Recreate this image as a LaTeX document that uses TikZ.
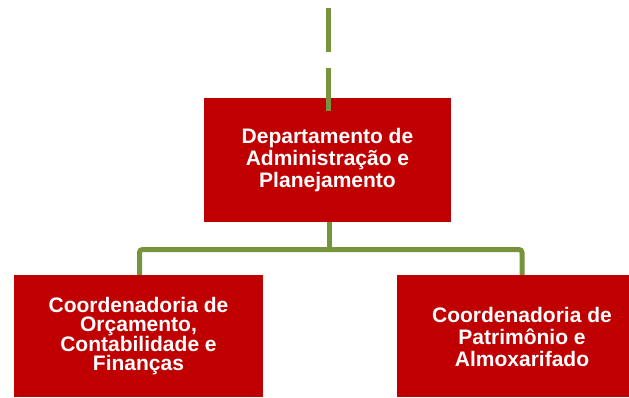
\documentclass[tikz,border=0pt]{standalone}
\usepackage{fontspec}
\setmainfont{Liberation Sans}
\usetikzlibrary{calc}
\definecolor{boxred}{RGB}{192,0,0}
\definecolor{lineg}{RGB}{119,147,60}
\begin{document}
\begin{tikzpicture}[
  box/.style={fill=boxred, inner sep=0pt, text=white, align=center},
  boxfont/.style={font=\bfseries\fontsize{21}{22}\selectfont},
  tightfont/.style={font=\bfseries\fontsize{21}{18.7}\selectfont},
  conn/.style={draw=lineg, line width=5pt, rounded corners=3pt},
  dashconn/.style={draw=lineg, line width=5pt, dash pattern=on 44pt off 16pt}
]
\useasboundingbox (0,0) rectangle (629pt,-397pt);

% coordinates for connectors
\coordinate (dtop) at (328.7pt,-8pt);
\coordinate (bl) at (139.5pt,-249.5pt);
\coordinate (br) at (522pt,-249.5pt);
\coordinate (bm) at (329pt,-249.5pt);

% connectors below boxes
\draw[conn] (bl |- 0,-276pt) -- (bl) -- (br) -- (br |- 0,-276pt);
\draw[conn] (bm |- 0,-220pt) -- (bm);

% boxes
\node[box, boxfont, minimum width=247pt, minimum height=124pt] (top) at (327.5pt,-160pt)
  {Departamento de\\Administração e\\Planejamento};
\node[box, tightfont, minimum width=249pt, minimum height=122pt] (lft) at (138.5pt,-336pt)
  {Coordenadoria de\\Orçamento,\\Contabilidade e\\Finanças};
\node[box, minimum width=232pt, minimum height=122pt] (rgt) at (513pt,-336pt) {};
\node[boxfont, text=white, align=center, inner sep=0pt] (rgttext) at (522pt,-337pt)
  {Coordenadoria de\\Patrimônio e\\Almoxarifado};

% dashed line over the top box
\coordinate (dend) at ($(dtop |- top.north)+(0,-13pt)$);
\draw[dashconn] (dtop) -- (dend);
\end{tikzpicture}
\end{document}
